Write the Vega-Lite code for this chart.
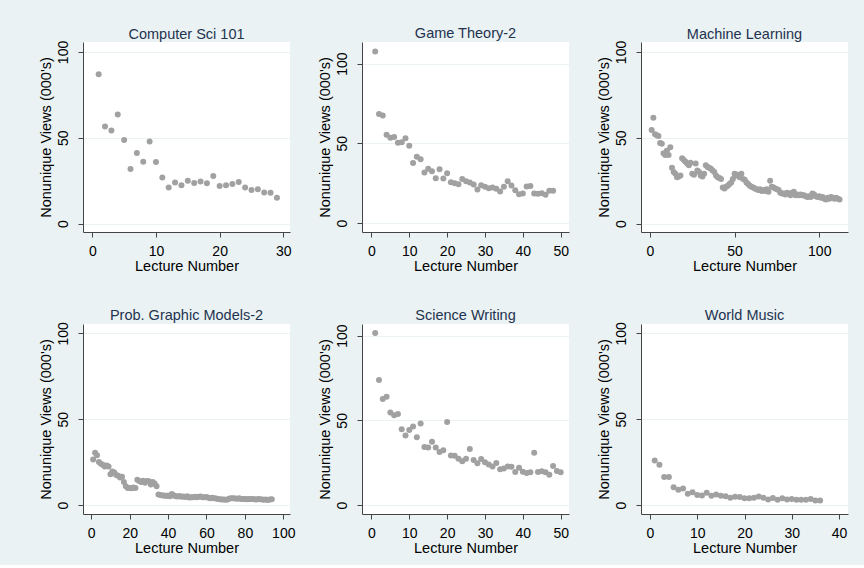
{
"$schema": "https://vega.github.io/schema/vega-lite/v6.json",
"background": "#EAF2F3",
"padding": {"left": 38, "top": 25, "right": 20, "bottom": 10},
"data": {"name": "views"},
"datasets": {"views": [
{"course":"CS","lecture":1,"views":87},{"course":"CS","lecture":2,"views":56.5},{"course":"CS","lecture":3,"views":54.2},{"course":"CS","lecture":4,"views":63.5},{"course":"CS","lecture":5,"views":48.7},{"course":"CS","lecture":6,"views":31.8},{"course":"CS","lecture":7,"views":41.2},{"course":"CS","lecture":8,"views":36.1},{"course":"CS","lecture":9,"views":47.8},{"course":"CS","lecture":10,"views":35.9},{"course":"CS","lecture":11,"views":26.8},{"course":"CS","lecture":12,"views":21},{"course":"CS","lecture":13,"views":23.9},{"course":"CS","lecture":14,"views":22.3},{"course":"CS","lecture":15,"views":25},{"course":"CS","lecture":16,"views":23.7},{"course":"CS","lecture":17,"views":24.5},{"course":"CS","lecture":18,"views":23.5},{"course":"CS","lecture":19,"views":27.8},{"course":"CS","lecture":20,"views":21.9},{"course":"CS","lecture":21,"views":22.3},{"course":"CS","lecture":22,"views":23.1},{"course":"CS","lecture":23,"views":24.3},{"course":"CS","lecture":24,"views":21},{"course":"CS","lecture":25,"views":19.6},{"course":"CS","lecture":26,"views":20},{"course":"CS","lecture":27,"views":18.1},{"course":"CS","lecture":28,"views":17.9},{"course":"CS","lecture":29,"views":15},
{"course":"GT","lecture":1,"views":107.5},{"course":"GT","lecture":2,"views":68.3},{"course":"GT","lecture":3,"views":67.5},{"course":"GT","lecture":4,"views":55.4},{"course":"GT","lecture":5,"views":53.5},{"course":"GT","lecture":6,"views":54},{"course":"GT","lecture":7,"views":50.4},{"course":"GT","lecture":8,"views":50.6},{"course":"GT","lecture":9,"views":53.1},{"course":"GT","lecture":10,"views":48.5},{"course":"GT","lecture":11,"views":37.7},{"course":"GT","lecture":12,"views":41.5},{"course":"GT","lecture":13,"views":40},{"course":"GT","lecture":14,"views":31.7},{"course":"GT","lecture":15,"views":34},{"course":"GT","lecture":16,"views":32.5},{"course":"GT","lecture":17,"views":28.1},{"course":"GT","lecture":18,"views":33.7},{"course":"GT","lecture":19,"views":27.9},{"course":"GT","lecture":20,"views":31.2},{"course":"GT","lecture":21,"views":25.6},{"course":"GT","lecture":22,"views":25},{"course":"GT","lecture":23,"views":24.4},{"course":"GT","lecture":24,"views":27.7},{"course":"GT","lecture":25,"views":26.2},{"course":"GT","lecture":26,"views":25.4},{"course":"GT","lecture":27,"views":24.2},{"course":"GT","lecture":28,"views":21},{"course":"GT","lecture":29,"views":23.7},{"course":"GT","lecture":30,"views":22.7},{"course":"GT","lecture":31,"views":21.9},{"course":"GT","lecture":32,"views":22.3},{"course":"GT","lecture":33,"views":21.5},{"course":"GT","lecture":34,"views":19.8},{"course":"GT","lecture":35,"views":22.7},{"course":"GT","lecture":36,"views":26.2},{"course":"GT","lecture":37,"views":23.5},{"course":"GT","lecture":38,"views":20.6},{"course":"GT","lecture":39,"views":18.1},{"course":"GT","lecture":40,"views":18.5},{"course":"GT","lecture":41,"views":22.9},{"course":"GT","lecture":42,"views":23.3},{"course":"GT","lecture":43,"views":18.5},{"course":"GT","lecture":44,"views":18.3},{"course":"GT","lecture":45,"views":18.7},{"course":"GT","lecture":46,"views":17.7},{"course":"GT","lecture":47,"views":20.2},{"course":"GT","lecture":48,"views":20.2},
{"course":"ML","lecture":1,"views":54.5},{"course":"ML","lecture":2,"views":61.7},{"course":"ML","lecture":3,"views":52},{"course":"ML","lecture":4,"views":51.5},{"course":"ML","lecture":5,"views":51},{"course":"ML","lecture":6,"views":47},{"course":"ML","lecture":7,"views":46.5},{"course":"ML","lecture":8,"views":41},{"course":"ML","lecture":9,"views":40},{"course":"ML","lecture":10,"views":42.5},{"course":"ML","lecture":11,"views":40},{"course":"ML","lecture":12,"views":44.5},{"course":"ML","lecture":13,"views":32.5},{"course":"ML","lecture":14,"views":30},{"course":"ML","lecture":15,"views":29},{"course":"ML","lecture":16,"views":27},{"course":"ML","lecture":17,"views":27.5},{"course":"ML","lecture":18,"views":28},{"course":"ML","lecture":19,"views":38},{"course":"ML","lecture":20,"views":37},{"course":"ML","lecture":21,"views":36},{"course":"ML","lecture":22,"views":35},{"course":"ML","lecture":23,"views":34},{"course":"ML","lecture":24,"views":35.5},{"course":"ML","lecture":25,"views":29},{"course":"ML","lecture":26,"views":28.5},{"course":"ML","lecture":27,"views":35},{"course":"ML","lecture":28,"views":31},{"course":"ML","lecture":29,"views":30},{"course":"ML","lecture":30,"views":28},{"course":"ML","lecture":31,"views":27.5},{"course":"ML","lecture":32,"views":29},{"course":"ML","lecture":33,"views":34},{"course":"ML","lecture":34,"views":33},{"course":"ML","lecture":35,"views":32.5},{"course":"ML","lecture":36,"views":32},{"course":"ML","lecture":37,"views":31},{"course":"ML","lecture":38,"views":30},{"course":"ML","lecture":39,"views":28},{"course":"ML","lecture":40,"views":27},{"course":"ML","lecture":41,"views":26.5},{"course":"ML","lecture":42,"views":26},{"course":"ML","lecture":43,"views":21},{"course":"ML","lecture":44,"views":20.5},{"course":"ML","lecture":45,"views":21.5},{"course":"ML","lecture":46,"views":22},{"course":"ML","lecture":47,"views":23},{"course":"ML","lecture":48,"views":24},{"course":"ML","lecture":49,"views":26},{"course":"ML","lecture":50,"views":29},{"course":"ML","lecture":51,"views":28},{"course":"ML","lecture":52,"views":28.5},{"course":"ML","lecture":53,"views":27},{"course":"ML","lecture":54,"views":29},{"course":"ML","lecture":55,"views":26},{"course":"ML","lecture":56,"views":25.5},{"course":"ML","lecture":57,"views":24},{"course":"ML","lecture":58,"views":23},{"course":"ML","lecture":59,"views":22},{"course":"ML","lecture":60,"views":21.5},{"course":"ML","lecture":61,"views":21},{"course":"ML","lecture":62,"views":20.5},{"course":"ML","lecture":63,"views":20},{"course":"ML","lecture":64,"views":19.5},{"course":"ML","lecture":65,"views":20},{"course":"ML","lecture":66,"views":19},{"course":"ML","lecture":67,"views":19.5},{"course":"ML","lecture":68,"views":19},{"course":"ML","lecture":69,"views":20},{"course":"ML","lecture":70,"views":18.5},{"course":"ML","lecture":71,"views":25},{"course":"ML","lecture":72,"views":21.5},{"course":"ML","lecture":73,"views":21},{"course":"ML","lecture":74,"views":20.5},{"course":"ML","lecture":75,"views":20},{"course":"ML","lecture":76,"views":19.5},{"course":"ML","lecture":77,"views":18},{"course":"ML","lecture":78,"views":17.5},{"course":"ML","lecture":79,"views":17.5},{"course":"ML","lecture":80,"views":17},{"course":"ML","lecture":81,"views":18},{"course":"ML","lecture":82,"views":17.5},{"course":"ML","lecture":83,"views":16.5},{"course":"ML","lecture":84,"views":18},{"course":"ML","lecture":85,"views":18.5},{"course":"ML","lecture":86,"views":16.5},{"course":"ML","lecture":87,"views":17},{"course":"ML","lecture":88,"views":16.5},{"course":"ML","lecture":89,"views":17},{"course":"ML","lecture":90,"views":16.5},{"course":"ML","lecture":91,"views":16.5},{"course":"ML","lecture":92,"views":16},{"course":"ML","lecture":93,"views":15.5},{"course":"ML","lecture":94,"views":16},{"course":"ML","lecture":95,"views":15.5},{"course":"ML","lecture":96,"views":17.5},{"course":"ML","lecture":97,"views":17},{"course":"ML","lecture":98,"views":16},{"course":"ML","lecture":99,"views":15.5},{"course":"ML","lecture":100,"views":16},{"course":"ML","lecture":101,"views":15},{"course":"ML","lecture":102,"views":15.5},{"course":"ML","lecture":103,"views":14.5},{"course":"ML","lecture":104,"views":14},{"course":"ML","lecture":105,"views":15},{"course":"ML","lecture":106,"views":14.5},{"course":"ML","lecture":107,"views":15.5},{"course":"ML","lecture":108,"views":15},{"course":"ML","lecture":109,"views":14.5},{"course":"ML","lecture":110,"views":15},{"course":"ML","lecture":111,"views":14.5},{"course":"ML","lecture":112,"views":14},
{"course":"PGM","lecture":1,"views":26.5},{"course":"PGM","lecture":2,"views":30.5},{"course":"PGM","lecture":3,"views":29},{"course":"PGM","lecture":4,"views":25},{"course":"PGM","lecture":5,"views":24},{"course":"PGM","lecture":6,"views":23.5},{"course":"PGM","lecture":7,"views":22.5},{"course":"PGM","lecture":8,"views":23},{"course":"PGM","lecture":9,"views":22.5},{"course":"PGM","lecture":10,"views":18},{"course":"PGM","lecture":11,"views":19.5},{"course":"PGM","lecture":12,"views":19},{"course":"PGM","lecture":13,"views":17.5},{"course":"PGM","lecture":14,"views":17},{"course":"PGM","lecture":15,"views":16},{"course":"PGM","lecture":16,"views":16.5},{"course":"PGM","lecture":17,"views":13.5},{"course":"PGM","lecture":18,"views":11},{"course":"PGM","lecture":19,"views":10},{"course":"PGM","lecture":20,"views":10},{"course":"PGM","lecture":21,"views":9.8},{"course":"PGM","lecture":22,"views":10.2},{"course":"PGM","lecture":23,"views":10},{"course":"PGM","lecture":24,"views":14.8},{"course":"PGM","lecture":25,"views":14},{"course":"PGM","lecture":26,"views":13.5},{"course":"PGM","lecture":27,"views":14.2},{"course":"PGM","lecture":28,"views":13},{"course":"PGM","lecture":29,"views":14},{"course":"PGM","lecture":30,"views":13.8},{"course":"PGM","lecture":31,"views":12},{"course":"PGM","lecture":32,"views":13.5},{"course":"PGM","lecture":33,"views":12.5},{"course":"PGM","lecture":34,"views":11},{"course":"PGM","lecture":35,"views":6.2},{"course":"PGM","lecture":36,"views":5.8},{"course":"PGM","lecture":37,"views":5.5},{"course":"PGM","lecture":38,"views":5.6},{"course":"PGM","lecture":39,"views":5.3},{"course":"PGM","lecture":40,"views":5.5},{"course":"PGM","lecture":41,"views":5.2},{"course":"PGM","lecture":42,"views":6.5},{"course":"PGM","lecture":43,"views":5.6},{"course":"PGM","lecture":44,"views":5.2},{"course":"PGM","lecture":45,"views":5},{"course":"PGM","lecture":46,"views":5.3},{"course":"PGM","lecture":47,"views":4.8},{"course":"PGM","lecture":48,"views":5},{"course":"PGM","lecture":49,"views":4.7},{"course":"PGM","lecture":50,"views":5.1},{"course":"PGM","lecture":51,"views":4.4},{"course":"PGM","lecture":52,"views":4.6},{"course":"PGM","lecture":53,"views":4.5},{"course":"PGM","lecture":54,"views":4.9},{"course":"PGM","lecture":55,"views":4.5},{"course":"PGM","lecture":56,"views":4.8},{"course":"PGM","lecture":57,"views":5},{"course":"PGM","lecture":58,"views":4.6},{"course":"PGM","lecture":59,"views":4.5},{"course":"PGM","lecture":60,"views":4.7},{"course":"PGM","lecture":61,"views":4.2},{"course":"PGM","lecture":62,"views":4},{"course":"PGM","lecture":63,"views":4.3},{"course":"PGM","lecture":64,"views":3.9},{"course":"PGM","lecture":65,"views":3.8},{"course":"PGM","lecture":66,"views":3.6},{"course":"PGM","lecture":67,"views":3.4},{"course":"PGM","lecture":68,"views":3.2},{"course":"PGM","lecture":69,"views":3.3},{"course":"PGM","lecture":70,"views":3.1},{"course":"PGM","lecture":71,"views":3.3},{"course":"PGM","lecture":72,"views":3.8},{"course":"PGM","lecture":73,"views":3.9},{"course":"PGM","lecture":74,"views":4},{"course":"PGM","lecture":75,"views":3.8},{"course":"PGM","lecture":76,"views":3.7},{"course":"PGM","lecture":77,"views":3.9},{"course":"PGM","lecture":78,"views":3.6},{"course":"PGM","lecture":79,"views":3.6},{"course":"PGM","lecture":80,"views":3.5},{"course":"PGM","lecture":81,"views":3.4},{"course":"PGM","lecture":82,"views":3.5},{"course":"PGM","lecture":83,"views":3.6},{"course":"PGM","lecture":84,"views":3.5},{"course":"PGM","lecture":85,"views":3.4},{"course":"PGM","lecture":86,"views":3.3},{"course":"PGM","lecture":87,"views":3.5},{"course":"PGM","lecture":88,"views":3.4},{"course":"PGM","lecture":89,"views":3.2},{"course":"PGM","lecture":90,"views":3.1},{"course":"PGM","lecture":91,"views":3.3},{"course":"PGM","lecture":92,"views":3},{"course":"PGM","lecture":93,"views":3.2},{"course":"PGM","lecture":94,"views":3.4},
{"course":"SW","lecture":1,"views":101.6},{"course":"SW","lecture":2,"views":73.8},{"course":"SW","lecture":3,"views":62.6},{"course":"SW","lecture":4,"views":64},{"course":"SW","lecture":5,"views":54.7},{"course":"SW","lecture":6,"views":53},{"course":"SW","lecture":7,"views":53.7},{"course":"SW","lecture":8,"views":44.7},{"course":"SW","lecture":9,"views":41.1},{"course":"SW","lecture":10,"views":44.3},{"course":"SW","lecture":11,"views":46.3},{"course":"SW","lecture":12,"views":40},{"course":"SW","lecture":13,"views":48.2},{"course":"SW","lecture":14,"views":34.2},{"course":"SW","lecture":15,"views":33.9},{"course":"SW","lecture":16,"views":37.4},{"course":"SW","lecture":17,"views":33.9},{"course":"SW","lecture":18,"views":31.3},{"course":"SW","lecture":19,"views":32.3},{"course":"SW","lecture":20,"views":49},{"course":"SW","lecture":21,"views":29.3},{"course":"SW","lecture":22,"views":29.1},{"course":"SW","lecture":23,"views":27.4},{"course":"SW","lecture":24,"views":25.8},{"course":"SW","lecture":25,"views":27.4},{"course":"SW","lecture":26,"views":33.1},{"course":"SW","lecture":27,"views":26.6},{"course":"SW","lecture":28,"views":24.6},{"course":"SW","lecture":29,"views":27.2},{"course":"SW","lecture":30,"views":25.2},{"course":"SW","lecture":31,"views":24},{"course":"SW","lecture":32,"views":22.8},{"course":"SW","lecture":33,"views":24.8},{"course":"SW","lecture":34,"views":21.1},{"course":"SW","lecture":35,"views":21.5},{"course":"SW","lecture":36,"views":22.8},{"course":"SW","lecture":37,"views":22.6},{"course":"SW","lecture":38,"views":19.5},{"course":"SW","lecture":39,"views":22},{"course":"SW","lecture":40,"views":19.7},{"course":"SW","lecture":41,"views":18.9},{"course":"SW","lecture":42,"views":19.3},{"course":"SW","lecture":43,"views":30.9},{"course":"SW","lecture":44,"views":19.5},{"course":"SW","lecture":45,"views":19.9},{"course":"SW","lecture":46,"views":19.3},{"course":"SW","lecture":47,"views":17.9},{"course":"SW","lecture":48,"views":23},{"course":"SW","lecture":49,"views":20.1},{"course":"SW","lecture":50,"views":19.3},
{"course":"WM","lecture":1,"views":26},{"course":"WM","lecture":2,"views":23.5},{"course":"WM","lecture":3,"views":16.3},{"course":"WM","lecture":4,"views":16.3},{"course":"WM","lecture":5,"views":10.3},{"course":"WM","lecture":6,"views":8.9},{"course":"WM","lecture":7,"views":9.7},{"course":"WM","lecture":8,"views":6.6},{"course":"WM","lecture":9,"views":7.4},{"course":"WM","lecture":10,"views":5.8},{"course":"WM","lecture":11,"views":5.6},{"course":"WM","lecture":12,"views":7.2},{"course":"WM","lecture":13,"views":5.4},{"course":"WM","lecture":14,"views":6.2},{"course":"WM","lecture":15,"views":5.4},{"course":"WM","lecture":16,"views":5.2},{"course":"WM","lecture":17,"views":4.3},{"course":"WM","lecture":18,"views":4.9},{"course":"WM","lecture":19,"views":4.7},{"course":"WM","lecture":20,"views":3.9},{"course":"WM","lecture":21,"views":3.9},{"course":"WM","lecture":22,"views":4.3},{"course":"WM","lecture":23,"views":5},{"course":"WM","lecture":24,"views":4.3},{"course":"WM","lecture":25,"views":3.3},{"course":"WM","lecture":26,"views":4.1},{"course":"WM","lecture":27,"views":3.1},{"course":"WM","lecture":28,"views":3.9},{"course":"WM","lecture":29,"views":3.3},{"course":"WM","lecture":30,"views":3.5},{"course":"WM","lecture":31,"views":3.1},{"course":"WM","lecture":32,"views":3.1},{"course":"WM","lecture":33,"views":3.1},{"course":"WM","lecture":34,"views":3.5},{"course":"WM","lecture":35,"views":2.7},{"course":"WM","lecture":36,"views":2.7}
]},
"columns": 3,
"spacing": {"row": 92, "column": 72},
"bounds": "flush",
"concat": [
{"title": {"text": "Computer Sci 101", "dy": 6}, "width": 207, "height": 190,
 "transform": [{"filter": "datum.course === 'CS'"}],
 "mark": {"type": "point", "filled": true, "size": 36, "color": "#A1A1A1", "opacity": 1},
 "encoding": {
  "x": {"field": "lecture", "type": "quantitative", "title": "Lecture Number", "scale": {"domain": [-1.46, 31.05], "nice": false, "zero": false}, "axis": {"values": [0, 10, 20, 30]}},
  "y": {"field": "views", "type": "quantitative", "title": "Nonunique Views (000's)", "scale": {"domain": [-4.9, 105.8], "nice": false, "zero": false}, "axis": {"values": [0, 50, 100]}}}},
{"title": {"text": "Game Theory-2", "dy": 3}, "width": 207, "height": 190,
 "transform": [{"filter": "datum.course === 'GT'"}],
 "mark": {"type": "point", "filled": true, "size": 36, "color": "#A1A1A1", "opacity": 1},
 "encoding": {
  "x": {"field": "lecture", "type": "quantitative", "title": "Lecture Number", "scale": {"domain": [-2.49, 52.2], "nice": false, "zero": false}, "axis": {"values": [0, 10, 20, 30, 40, 50]}},
  "y": {"field": "views", "type": "quantitative", "title": "Nonunique Views (000's)", "scale": {"domain": [-5.6, 113.5], "nice": false, "zero": false}, "axis": {"values": [0, 50, 100]}}}},
{"title": {"text": "Machine Learning", "dy": 6}, "width": 207, "height": 190,
 "transform": [{"filter": "datum.course === 'ML'"}],
 "mark": {"type": "point", "filled": true, "size": 36, "color": "#A1A1A1", "opacity": 1},
 "encoding": {
  "x": {"field": "lecture", "type": "quantitative", "title": "Lecture Number", "scale": {"domain": [-5.3, 117.0], "nice": false, "zero": false}, "axis": {"values": [0, 50, 100]}},
  "y": {"field": "views", "type": "quantitative", "title": "Nonunique Views (000's)", "scale": {"domain": [-4.9, 105.8], "nice": false, "zero": false}, "axis": {"values": [0, 50, 100]}}}},
{"title": {"text": "Prob. Graphic Models-2", "dy": 6}, "width": 207, "height": 190,
 "transform": [{"filter": "datum.course === 'PGM'"}],
 "mark": {"type": "point", "filled": true, "size": 36, "color": "#A1A1A1", "opacity": 1},
 "encoding": {
  "x": {"field": "lecture", "type": "quantitative", "title": "Lecture Number", "scale": {"domain": [-4.3, 103.5], "nice": false, "zero": false}, "axis": {"values": [0, 20, 40, 60, 80, 100]}},
  "y": {"field": "views", "type": "quantitative", "title": "Nonunique Views (000's)", "scale": {"domain": [-5.2, 105.4], "nice": false, "zero": false}, "axis": {"values": [0, 50, 100]}}}},
{"title": {"text": "Science Writing", "dy": 3}, "width": 207, "height": 190,
 "transform": [{"filter": "datum.course === 'SW'"}],
 "mark": {"type": "point", "filled": true, "size": 36, "color": "#A1A1A1", "opacity": 1},
 "encoding": {
  "x": {"field": "lecture", "type": "quantitative", "title": "Lecture Number", "scale": {"domain": [-2.49, 52.2], "nice": false, "zero": false}, "axis": {"values": [0, 10, 20, 30, 40, 50]}},
  "y": {"field": "views", "type": "quantitative", "title": "Nonunique Views (000's)", "scale": {"domain": [-5.3, 106.9], "nice": false, "zero": false}, "axis": {"values": [0, 50, 100]}}}},
{"title": {"text": "World Music", "dy": 6}, "width": 207, "height": 190,
 "transform": [{"filter": "datum.course === 'WM'"}],
 "mark": {"type": "point", "filled": true, "size": 36, "color": "#A1A1A1", "opacity": 1},
 "encoding": {
  "x": {"field": "lecture", "type": "quantitative", "title": "Lecture Number", "scale": {"domain": [-1.9, 41.9], "nice": false, "zero": false}, "axis": {"values": [0, 10, 20, 30, 40]}},
  "y": {"field": "views", "type": "quantitative", "title": "Nonunique Views (000's)", "scale": {"domain": [-5.2, 105.4], "nice": false, "zero": false}, "axis": {"values": [0, 50, 100]}}}}
],
"config": {
 "view": {"fill": "white", "stroke": null},
 "axis": {"domainColor": "#444444", "tickColor": "#444444", "labelColor": "#000000", "titleColor": "#000000", "labelFont": "Liberation Sans", "titleFont": "Liberation Sans", "labelFontSize": 14, "titleFontSize": 14.5, "titleFontWeight": "normal", "gridColor": "#EAF2F3", "gridWidth": 1, "tickSize": 5, "domainWidth": 1, "tickWidth": 1, "labelFlush": false, "labelOverlap": false},
 "axisX": {"grid": false, "labelPadding": 7, "titlePadding": 1},
 "axisY": {"grid": true, "labelAngle": -90, "labelPadding": 8, "titlePadding": 3},
 "title": {"font": "Liberation Sans", "fontSize": 14.5, "fontWeight": "normal", "color": "#1F3350", "frame": "group", "anchor": "middle", "offset": 4}
}
}
